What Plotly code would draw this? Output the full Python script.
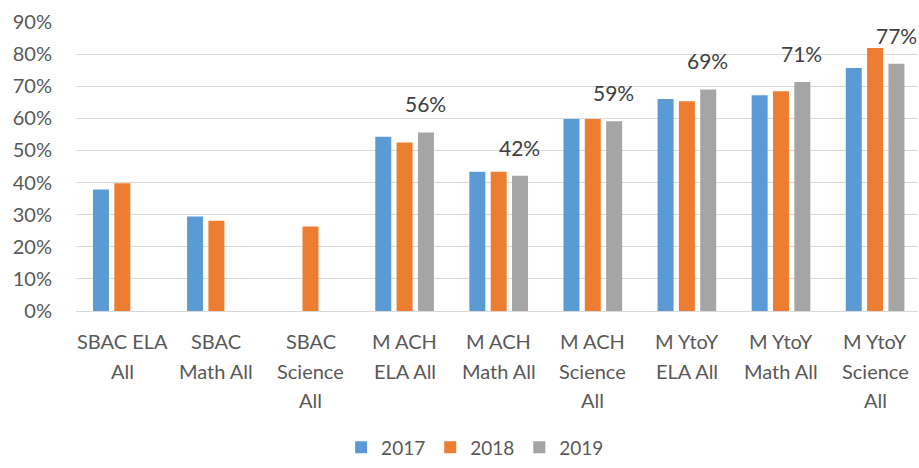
import plotly.graph_objects as go

categories = ["SBAC ELA All", "SBAC Math All", "SBAC Science All",
              "M ACH ELA All", "M ACH Math All", "M ACH Science All",
              "M YtoY ELA All", "M YtoY Math All", "M YtoY Science All"]
category_lines = [["SBAC ELA", "All"], ["SBAC", "Math All"], ["SBAC", "Science", "All"],
                  ["M ACH", "ELA All"], ["M ACH", "Math All"], ["M ACH", "Science", "All"],
                  ["M YtoY", "ELA All"], ["M YtoY", "Math All"], ["M YtoY", "Science", "All"]]
years = ["2017", "2018", "2019"]
v2017 = [0.378, 0.294, None, 0.543, 0.434, 0.598, 0.660, 0.672, 0.757]
v2018 = [0.398, 0.281, 0.263, 0.525, 0.434, 0.598, 0.653, 0.684, 0.819]
v2019 = [None, None, None, 0.556, 0.421, 0.591, 0.690, 0.713, 0.770]
colors = ["#5B9BD5", "#ED7D31", "#A5A5A5"]

FONT = "Lato"
fig = go.Figure()
for name, vals, c in zip(years, [v2017, v2018, v2019], colors):
    fig.add_trace(go.Bar(x=categories, y=vals, name=name, marker_color=c,
                         marker_line_width=0))

# data labels on 2019 series
for cat, v in zip(categories, v2019):
    if v is not None:
        fig.add_annotation(x=cat, y=v, text=f"{round(v*100)}%", showarrow=False,
                           xshift=21, yshift=14, yanchor="bottom",
                           font=dict(family=FONT, size=21, color="#404040"))

# category labels (wrapped, Excel-like line spacing)
for cat, lines in zip(categories, category_lines):
    for i, line in enumerate(lines):
        fig.add_annotation(x=cat, xref="x", y=0, yref="paper", text=line,
                           showarrow=False, yanchor="middle", yshift=-30 - 29.5 * i,
                           font=dict(family=FONT, size=20, color="#595959"))

fig.update_layout(
    width=919, height=468,
    margin=dict(l=76, r=1, t=22, b=151),
    paper_bgcolor="white", plot_bgcolor="white",
    barmode="group", bargap=0.32, bargroupgap=0.25,
    font=dict(family=FONT, size=20, color="#595959"),
    legend=dict(orientation="h", x=0.474, xanchor="center", y=-0.472, yanchor="middle",
                font=dict(size=19), itemwidth=30, tracegroupgap=0),
    xaxis=dict(showticklabels=False, showline=False, ticks="", automargin=False,
               range=[-0.492, 8.456]),
    yaxis=dict(range=[0, 0.9], dtick=0.1, tickformat=".0%", gridcolor="#D9D9D9",
               gridwidth=1.3, zeroline=True, zerolinecolor="#D9D9D9", zerolinewidth=1.3,
               showline=False, ticks="", automargin=False, ticklabelstandoff=23,
               tickfont=dict(size=20)),
)
fig.write_html("out.html", config={"displayModeBar": False},
               post_script="document.body.style.margin='0';document.body.style.overflow='hidden';")
